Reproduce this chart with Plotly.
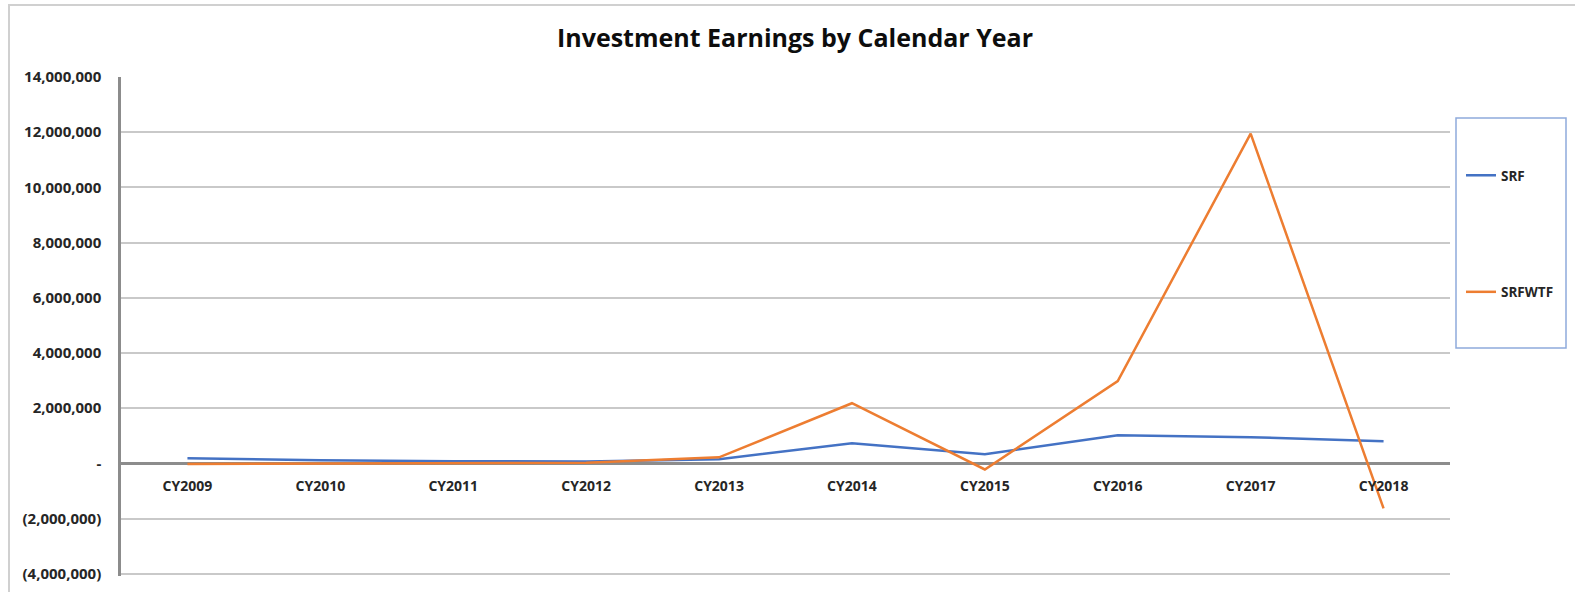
import plotly.graph_objects as go

categories = ["CY2009", "CY2010", "CY2011", "CY2012", "CY2013",
              "CY2014", "CY2015", "CY2016", "CY2017", "CY2018"]
srf = [190000, 110000, 80000, 70000, 150000, 730000, 330000, 1020000, 950000, 800000]
srfwtf = [-20000, -10000, 0, 20000, 220000, 2180000, -220000, 2980000, 11950000, -1630000]

tick_vals = [14000000, 12000000, 10000000, 8000000, 6000000, 4000000,
             2000000, 0, -2000000, -4000000]
tick_text = ["14,000,000", "12,000,000", "10,000,000", "8,000,000", "6,000,000",
             "4,000,000", "2,000,000", "-", "(2,000,000)", "(4,000,000)"]

FONT = "Open Sans"
TXT = "#262626"

fig = go.Figure()
fig.add_trace(go.Scatter(x=categories, y=srf, name="SRF", mode="lines",
                         line=dict(color="#4472C4", width=2.5),
                         legendgroup="a"))
fig.add_trace(go.Scatter(x=categories, y=srfwtf, name="SRFWTF", mode="lines",
                         line=dict(color="#ED7D31", width=2.5),
                         legendgroup="b"))

W, H = 1575, 592
L, R, T, B = 121, 125, 77, 16
ymin, ymax = -4080000, 14000000
zero_pos = (0 - ymin) / (ymax - ymin)

def px_x(p):
    return (p - L) / (W - L - R)

def px_y(p):
    return (H - B - p) / (H - T - B)

fig.update_layout(
    width=W, height=H,
    margin=dict(l=L, r=R, t=T, b=B, autoexpand=False),
    paper_bgcolor="white", plot_bgcolor="white",
    font=dict(family=FONT, color=TXT),
    title=dict(text="Investment Earnings by Calendar Year",
               x=795 / W, xanchor="center", y=1 - 38 / H, yanchor="middle",
               font=dict(family=FONT, size=25, color="#0d0d0d", weight="bold")),
    xaxis=dict(type="category", range=[-0.5, 9.5], showgrid=False,
               showline=False, zeroline=False, anchor="free", position=zero_pos,
               ticks="", ticklabelstandoff=13, automargin=False,
               tickfont=dict(family=FONT, size=14, color=TXT, weight="bold")),
    yaxis=dict(range=[ymin, ymax], tickvals=tick_vals, ticktext=tick_text,
               showgrid=True, gridcolor="#c9c9c9", gridwidth=1.5,
               showline=True, linecolor="#8c8c8c", linewidth=2.5,
               zeroline=True, zerolinecolor="#8c8c8c", zerolinewidth=2.5,
               ticks="", ticklabelstandoff=14, automargin=False,
               tickfont=dict(family=FONT, size=15, color=TXT, weight="bold")),
    showlegend=True,
    legend=dict(x=px_x(1461), xanchor="left", y=px_y(160), yanchor="top",
                bgcolor="rgba(0,0,0,0)", borderwidth=0,
                tracegroupgap=96,
                font=dict(family=FONT, size=13.5, color=TXT, weight="bold")),
    shapes=[
        dict(type="rect", xref="paper", yref="paper",
             x0=px_x(1456), x1=px_x(1566), y0=px_y(348), y1=px_y(118),
             line=dict(color="#8EAADB", width=1.5), fillcolor="rgba(0,0,0,0)"),
        dict(type="rect", xref="paper", yref="paper",
             x0=px_x(9), x1=px_x(1590), y0=px_y(610), y1=px_y(5),
             line=dict(color="#d0d0d0", width=2), fillcolor="rgba(0,0,0,0)"),
    ],
)

fig.write_html("out.html", config={"displayModeBar": False},
               post_script="document.body.style.margin='0';document.body.style.overflow='hidden';")
